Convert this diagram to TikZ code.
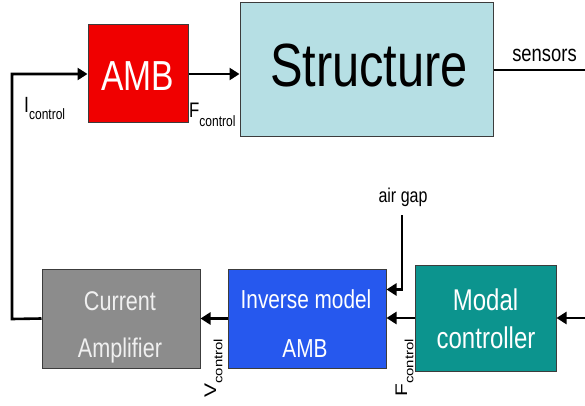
\documentclass[tikz,border=0pt]{standalone}
\usepackage{fontspec}
\setmainfont{Liberation Sans}[FakeStretch=0.8]
\newfontfamily\rotfont{Liberation Sans}
\usetikzlibrary{arrows.meta}
\definecolor{ambred}{RGB}{240,0,0}
\definecolor{structblue}{RGB}{182,223,228}
\definecolor{ampgray}{RGB}{140,140,140}
\definecolor{invblue}{RGB}{38,88,238}
\definecolor{modteal}{RGB}{12,148,142}
\definecolor{boxline}{RGB}{60,60,60}
\newcommand{\fs}[1]{\fontsize{#1}{#1}\selectfont}
\begin{document}
\begin{tikzpicture}[x=1pt,y=-1pt,
  box/.style={draw=boxline,line width=1pt,inner sep=0pt},
  wire/.style={line width=2.6pt},
  arr/.style={-{Triangle[length=10pt,width=12pt]}},
  txt/.style={inner sep=0pt,anchor=base}]
\useasboundingbox (0,0) rectangle (585,406);
% boxes
\node[box,fill=ambred,minimum width=100pt,minimum height=98pt] (amb) at (138,74) {};
\node[box,fill=structblue,minimum width=253pt,minimum height=134pt] (st) at (366.5,70) {};
\node[box,fill=ampgray,minimum width=158pt,minimum height=99pt] (ca) at (121,318.5) {};
\node[box,fill=invblue,minimum width=158pt,minimum height=99pt] (inv) at (307,318.5) {};
\node[box,fill=modteal,minimum width=141pt,minimum height=106pt] (mc) at (485.5,318) {};
% box texts
\node[txt,text=white] (ambt) at (137.5,91) {\fs{42}AMB};
\node[txt] (stt) at (369,87) {\fs{61}Structure};
\node[txt,text=white!94!black] (cat1) at (120,310) {\fs{27}Current};
\node[txt,text=white!94!black] (cat2) at (120,357) {\fs{27}Amplifier};
\node[txt,text=white] (invt1) at (306,308) {\fs{26}Inverse model};
\node[txt,text=white] (invt2) at (305,357) {\fs{26}AMB};
\node[txt,text=white] (mct1) at (485.5,310) {\fs{30}Modal};
\node[txt,text=white] (mct2) at (486,348) {\fs{30}controller};
% labels
\node[txt] (sens) at (544.5,62) {\fs{23}sensors};
\node[txt] (airgap) at (403,202) {\fs{20}air gap};
\node[txt,anchor=base west] (ictl) at (24,113) {\fs{22}I\raisebox{-7pt}{\fs{15}control}};
\node[txt,anchor=base west] (fctl) at (189,118) {\fs{21}F\raisebox{-9pt}{\fs{15}control}};
\node[inner sep=0pt,rotate=90,anchor=base west] (vctl) at (216,398) {\rotfont\scalebox{1}[0.8]{\fs{21}V\raisebox{-8pt}{\fs{15}control}}};
\node[inner sep=0pt,rotate=90,anchor=base west] (fctl2) at (407,397) {\rotfont\scalebox{1}[0.8]{\fs{21}F\raisebox{-8pt}{\fs{15}control}}};
% connector end points
\coordinate (lft) at (12,319);
\coordinate (sensR) at (585,70);
\coordinate (modR) at (585,318);
\coordinate (agtop) at (402,215);
% connectors
\draw[wire,arr] (ca.west) -- (lft) |- (amb.west);
\draw[wire,arr] (amb.east) -- (amb.east -| st.west);
\draw[wire] (st.east) -- (sensR);
\draw[wire,arr] (modR) -- (mc.east);
\draw[wire,arr] (mc.west) -- (mc.west -| inv.east);
\draw[wire,arr] (inv.west) -- (inv.west -| ca.east);
\draw[wire,arr] (agtop) |- ([yshift=-21pt]inv.north east);
\end{tikzpicture}
\end{document}
